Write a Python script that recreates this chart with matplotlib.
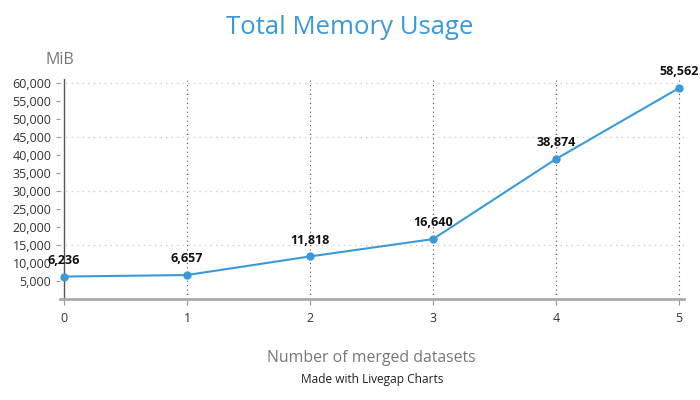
import matplotlib.pyplot as plt
from matplotlib.ticker import FuncFormatter

# data
datasets = [0, 1, 2, 3, 4, 5]
memory_mib = [6236, 6657, 11818, 16640, 38874, 58562]
y_ticks = list(range(5000, 60001, 5000))
grid_y = [15000, 30000, 45000, 60000]

blue = '#3a9ad9'
plt.rcParams['font.family'] = ['Open Sans', 'DejaVu Sans']

fig = plt.figure(figsize=(7, 4), dpi=100)
ax = fig.add_axes([0.0853, 0.2525, 0.8917, 0.551])

ax.plot(datasets, memory_mib, color=blue, lw=1.5, marker='o', ms=5,
        clip_on=False, zorder=5)
for x, y in zip(datasets, memory_mib):
    ax.annotate(f'{y:,}', (x, y), xytext=(0, 7), textcoords='offset points',
                ha='center', va='bottom', fontsize=9, fontweight='bold',
                color='#111111', zorder=6)

ax.set_xlim(-0.035, 5.04)
ax.set_ylim(0, 61200)
ax.set_xticks(datasets)
ax.set_yticks(y_ticks)
ax.yaxis.set_major_formatter(FuncFormatter(lambda v, p: f'{int(v):,}'))

# grids
for g in grid_y:
    ax.axhline(g, color='#cccccc', lw=1, ls=(0, (1, 3)), zorder=1)
for x in datasets[1:]:
    ax.axvline(x, color='#555555', lw=0.8, ls=(0, (1, 3)), zorder=1)
ax.axvline(0, color='#555555', lw=1, zorder=2)

for s in ['top', 'right', 'left']:
    ax.spines[s].set_visible(False)
ax.spines['bottom'].set_color('#aaaaaa')
ax.spines['bottom'].set_linewidth(2)

ax.tick_params(axis='y', length=3, color='#999999', labelsize=9,
               labelcolor='#333333', pad=3, left=True)
ax.tick_params(axis='x', length=4, color='#999999', labelsize=9,
               labelcolor='#333333', pad=5)

fig.text(0.5, 0.93, 'Total Memory Usage', ha='center', va='center',
         fontsize=18.5, color=blue)
fig.text(0.085, 0.85, 'MiB', ha='center', va='center', fontsize=11.5,
         color='#777777')
fig.text(0.531, 0.105, 'Number of merged datasets', ha='center', va='center',
         fontsize=11.4, color='#777777')
fig.text(0.531, 0.05, 'Made with Livegap Charts', ha='center', va='center',
         fontsize=8.6, color='#222222')

fig.savefig('out.png', dpi=100)
